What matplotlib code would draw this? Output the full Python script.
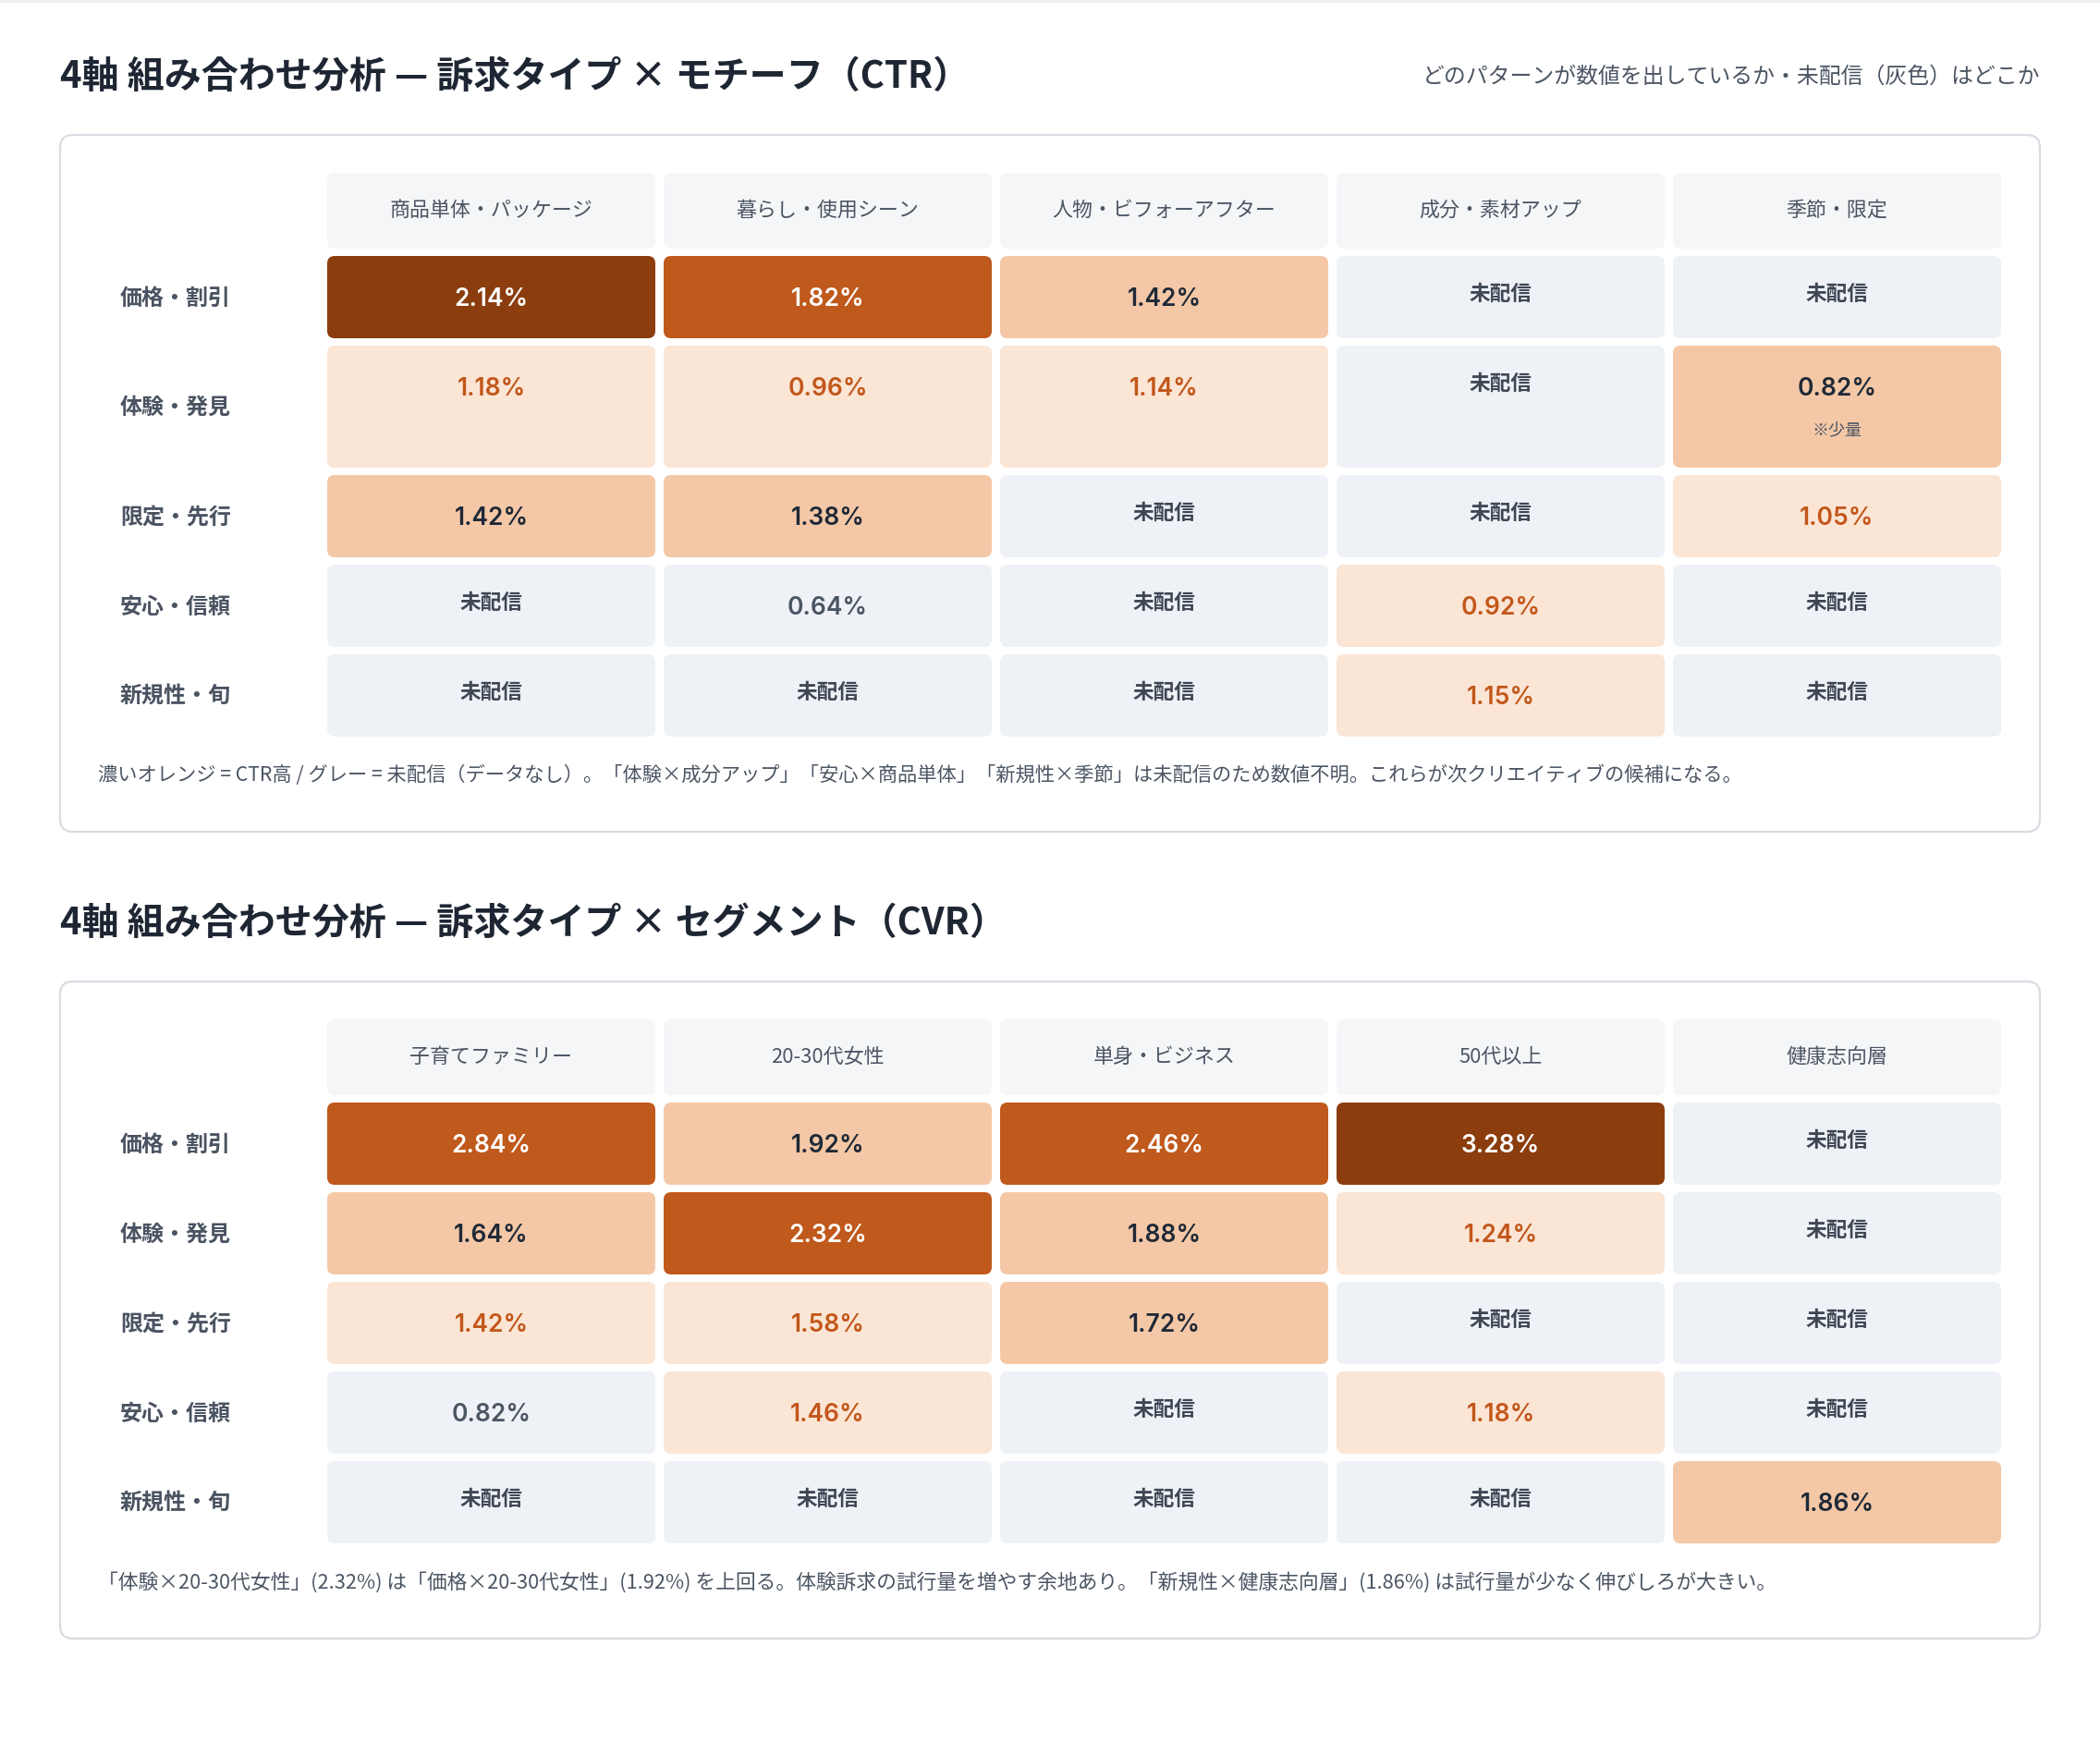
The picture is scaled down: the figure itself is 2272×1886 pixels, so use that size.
import matplotlib
matplotlib.use('Agg')
import matplotlib.pyplot as plt
from matplotlib.patches import FancyBboxPatch, Rectangle

# 1. Data
appeal_rows = ['価格・割引', '体験・発見', '限定・先行', '安心・信頼', '新規性・旬']

ctr_cols = ['商品単体・パッケージ', '暮らし・使用シーン', '人物・ビフォーアフター', '成分・素材アップ', '季節・限定']
ctr_values = [
    [2.14, 1.82, 1.42, None, None],
    [1.18, 0.96, 1.14, None, 0.82],
    [1.42, 1.38, None, None, 1.05],
    [None, 0.64, None, 0.92, None],
    [None, None, None, 1.15, None],
]
# colour class (0 = low/grey ... 4 = darkest)
ctr_tiers = [
    [4, 3, 2, 0, 0],
    [1, 1, 1, 0, 2],
    [2, 2, 0, 0, 1],
    [0, 0, 0, 1, 0],
    [0, 0, 0, 1, 0],
]
ctr_notes = {(1, 4): '※少量'}

cvr_cols = ['子育てファミリー', '20-30代女性', '単身・ビジネス', '50代以上', '健康志向層']
cvr_values = [
    [2.84, 1.92, 2.46, 3.28, None],
    [1.64, 2.32, 1.88, 1.24, None],
    [1.42, 1.58, 1.72, None, None],
    [0.82, 1.46, None, 1.18, None],
    [None, None, None, None, 1.86],
]
cvr_tiers = [
    [3, 2, 3, 4, 0],
    [2, 3, 2, 1, 0],
    [1, 1, 2, 0, 0],
    [0, 1, 0, 1, 0],
    [0, 0, 0, 0, 2],
]
cvr_notes = {}

title_ctr = '4軸 組み合わせ分析 — 訴求タイプ × モチーフ（CTR）'
title_cvr = '4軸 組み合わせ分析 — 訴求タイプ × セグメント（CVR）'
subtitle = 'どのパターンが数値を出しているか・未配信（灰色）はどこか'
foot_ctr = ('濃いオレンジ = CTR高 / グレー = 未配信（データなし）。「体験×成分アップ」「安心×商品単体」'
            '「新規性×季節」は未配信のため数値不明。これらが次クリエイティブの候補になる。')
foot_cvr = ('「体験×20-30代女性」(2.32%) は「価格×20-30代女性」(1.92%) を上回る。体験訴求の試行量を増やす余地あり。'
            '「新規性×健康志向層」(1.86%) は試行量が少なく伸びしろが大きい。')

# 2. Style
plt.rcParams['font.family'] = ['Noto Sans CJK JP', 'DejaVu Sans']
NUM_FONT = ['Inter', 'Noto Sans CJK JP', 'DejaVu Sans']

TIER_BG = {0: '#eef2f7', 1: '#fbe5d5', 2: '#f4c8a6', 3: '#c0591c', 4: '#8b3d0e'}
TIER_FG = {0: '#4b5563', 1: '#c2571a', 2: '#1f2937', 3: '#ffffff', 4: '#ffffff'}
MISSING_BG = '#eef2f7'
HEADER_BG = '#f5f6f8'

W, H = 2272, 1886
fig = plt.figure(figsize=(W / 100, H / 100), dpi=100)
ax = fig.add_axes([0, 0, 1, 1])
ax.set_xlim(0, W)
ax.set_ylim(H, 0)
ax.axis('off')

ax.add_patch(Rectangle((0, 0), W, 3, color='#eef0f3', lw=0))

CARD_X, CARD_W = 65, 2142
GRID_X, COL_W, GAP = 354, 355, 9
HEAD_H, ROW_H, TALL_H, ROW_GAP = 82, 89, 132, 8


def draw_table(card_top, title, cols, values, tiers, notes, footnote, foot_size, sub=None):
    ax.text(CARD_X, card_top - 63, title, fontsize=28.8, fontweight='bold',
            color='#1e2633', va='center', ha='left')
    if sub:
        ax.text(CARD_X + CARD_W, card_top - 63, sub, fontsize=17.2,
                color='#4b5563', va='center', ha='right')

    # row layout
    y = card_top + 41
    head_top = y
    y += HEAD_H + ROW_GAP
    row_tops, row_hs = [], []
    for r in range(len(appeal_rows)):
        h = TALL_H if any(k[0] == r for k in notes) else ROW_H
        row_tops.append(y)
        row_hs.append(h)
        y += h + ROW_GAP
    grid_bottom = y - ROW_GAP
    foot_y = grid_bottom + 42
    card_bottom = foot_y + 61

    card = FancyBboxPatch((CARD_X, card_top), CARD_W, card_bottom - card_top,
                          boxstyle='round,pad=0,rounding_size=14',
                          fc='white', ec='#d8dde3', lw=1.6, zorder=1)
    ax.add_patch(card)

    for c, name in enumerate(cols):
        x = GRID_X + c * (COL_W + GAP)
        ax.add_patch(FancyBboxPatch((x, head_top), COL_W, HEAD_H,
                                    boxstyle='round,pad=0,rounding_size=8',
                                    fc=HEADER_BG, ec='none', zorder=2))
        ax.text(x + COL_W / 2, head_top + HEAD_H / 2, name, fontsize=15.8,
                color='#4b5563', ha='center', va='center', zorder=3)

    for r, label in enumerate(appeal_rows):
        top, h = row_tops[r], row_hs[r]
        ax.text(130, top + h / 2 + 1, label, fontsize=17.3, fontweight='bold',
                color='#4a5361', ha='left', va='center', zorder=3)
        for c in range(len(cols)):
            x = GRID_X + c * (COL_W + GAP)
            v = values[r][c]
            if v is None:
                bg = MISSING_BG
            else:
                bg = TIER_BG[tiers[r][c]]
            ax.add_patch(FancyBboxPatch((x, top), COL_W, h,
                                        boxstyle='round,pad=0,rounding_size=8',
                                        fc=bg, ec='none', zorder=2))
            if v is None:
                ax.text(x + COL_W / 2, top + 41, '未配信', fontsize=16.3,
                        fontweight='bold', color='#3f4754',
                        ha='center', va='center', zorder=3)
            else:
                t = tiers[r][c]
                ax.text(x + COL_W / 2, top + 47, f'{v:.2f}%', fontsize=19,
                        fontweight='semibold', family=NUM_FONT, color=TIER_FG[t],
                        ha='center', va='center', zorder=3)
                if (r, c) in notes:
                    ax.text(x + COL_W / 2, top + 91, notes[(r, c)], fontsize=13,
                            color='#4b5563', ha='center', va='center', zorder=3)

    ax.text(106, foot_y, footnote, fontsize=foot_size, color='#4b5563',
            ha='left', va='center', zorder=3)
    return card_bottom


bottom1 = draw_table(146, title_ctr, ctr_cols, ctr_values, ctr_tiers, ctr_notes, foot_ctr, 15.3, subtitle)
draw_table(bottom1 + 162, title_cvr, cvr_cols, cvr_values, cvr_tiers, cvr_notes, foot_cvr, 15.7)

fig.savefig('out.png', dpi=100, facecolor='white')
plt.close(fig)
